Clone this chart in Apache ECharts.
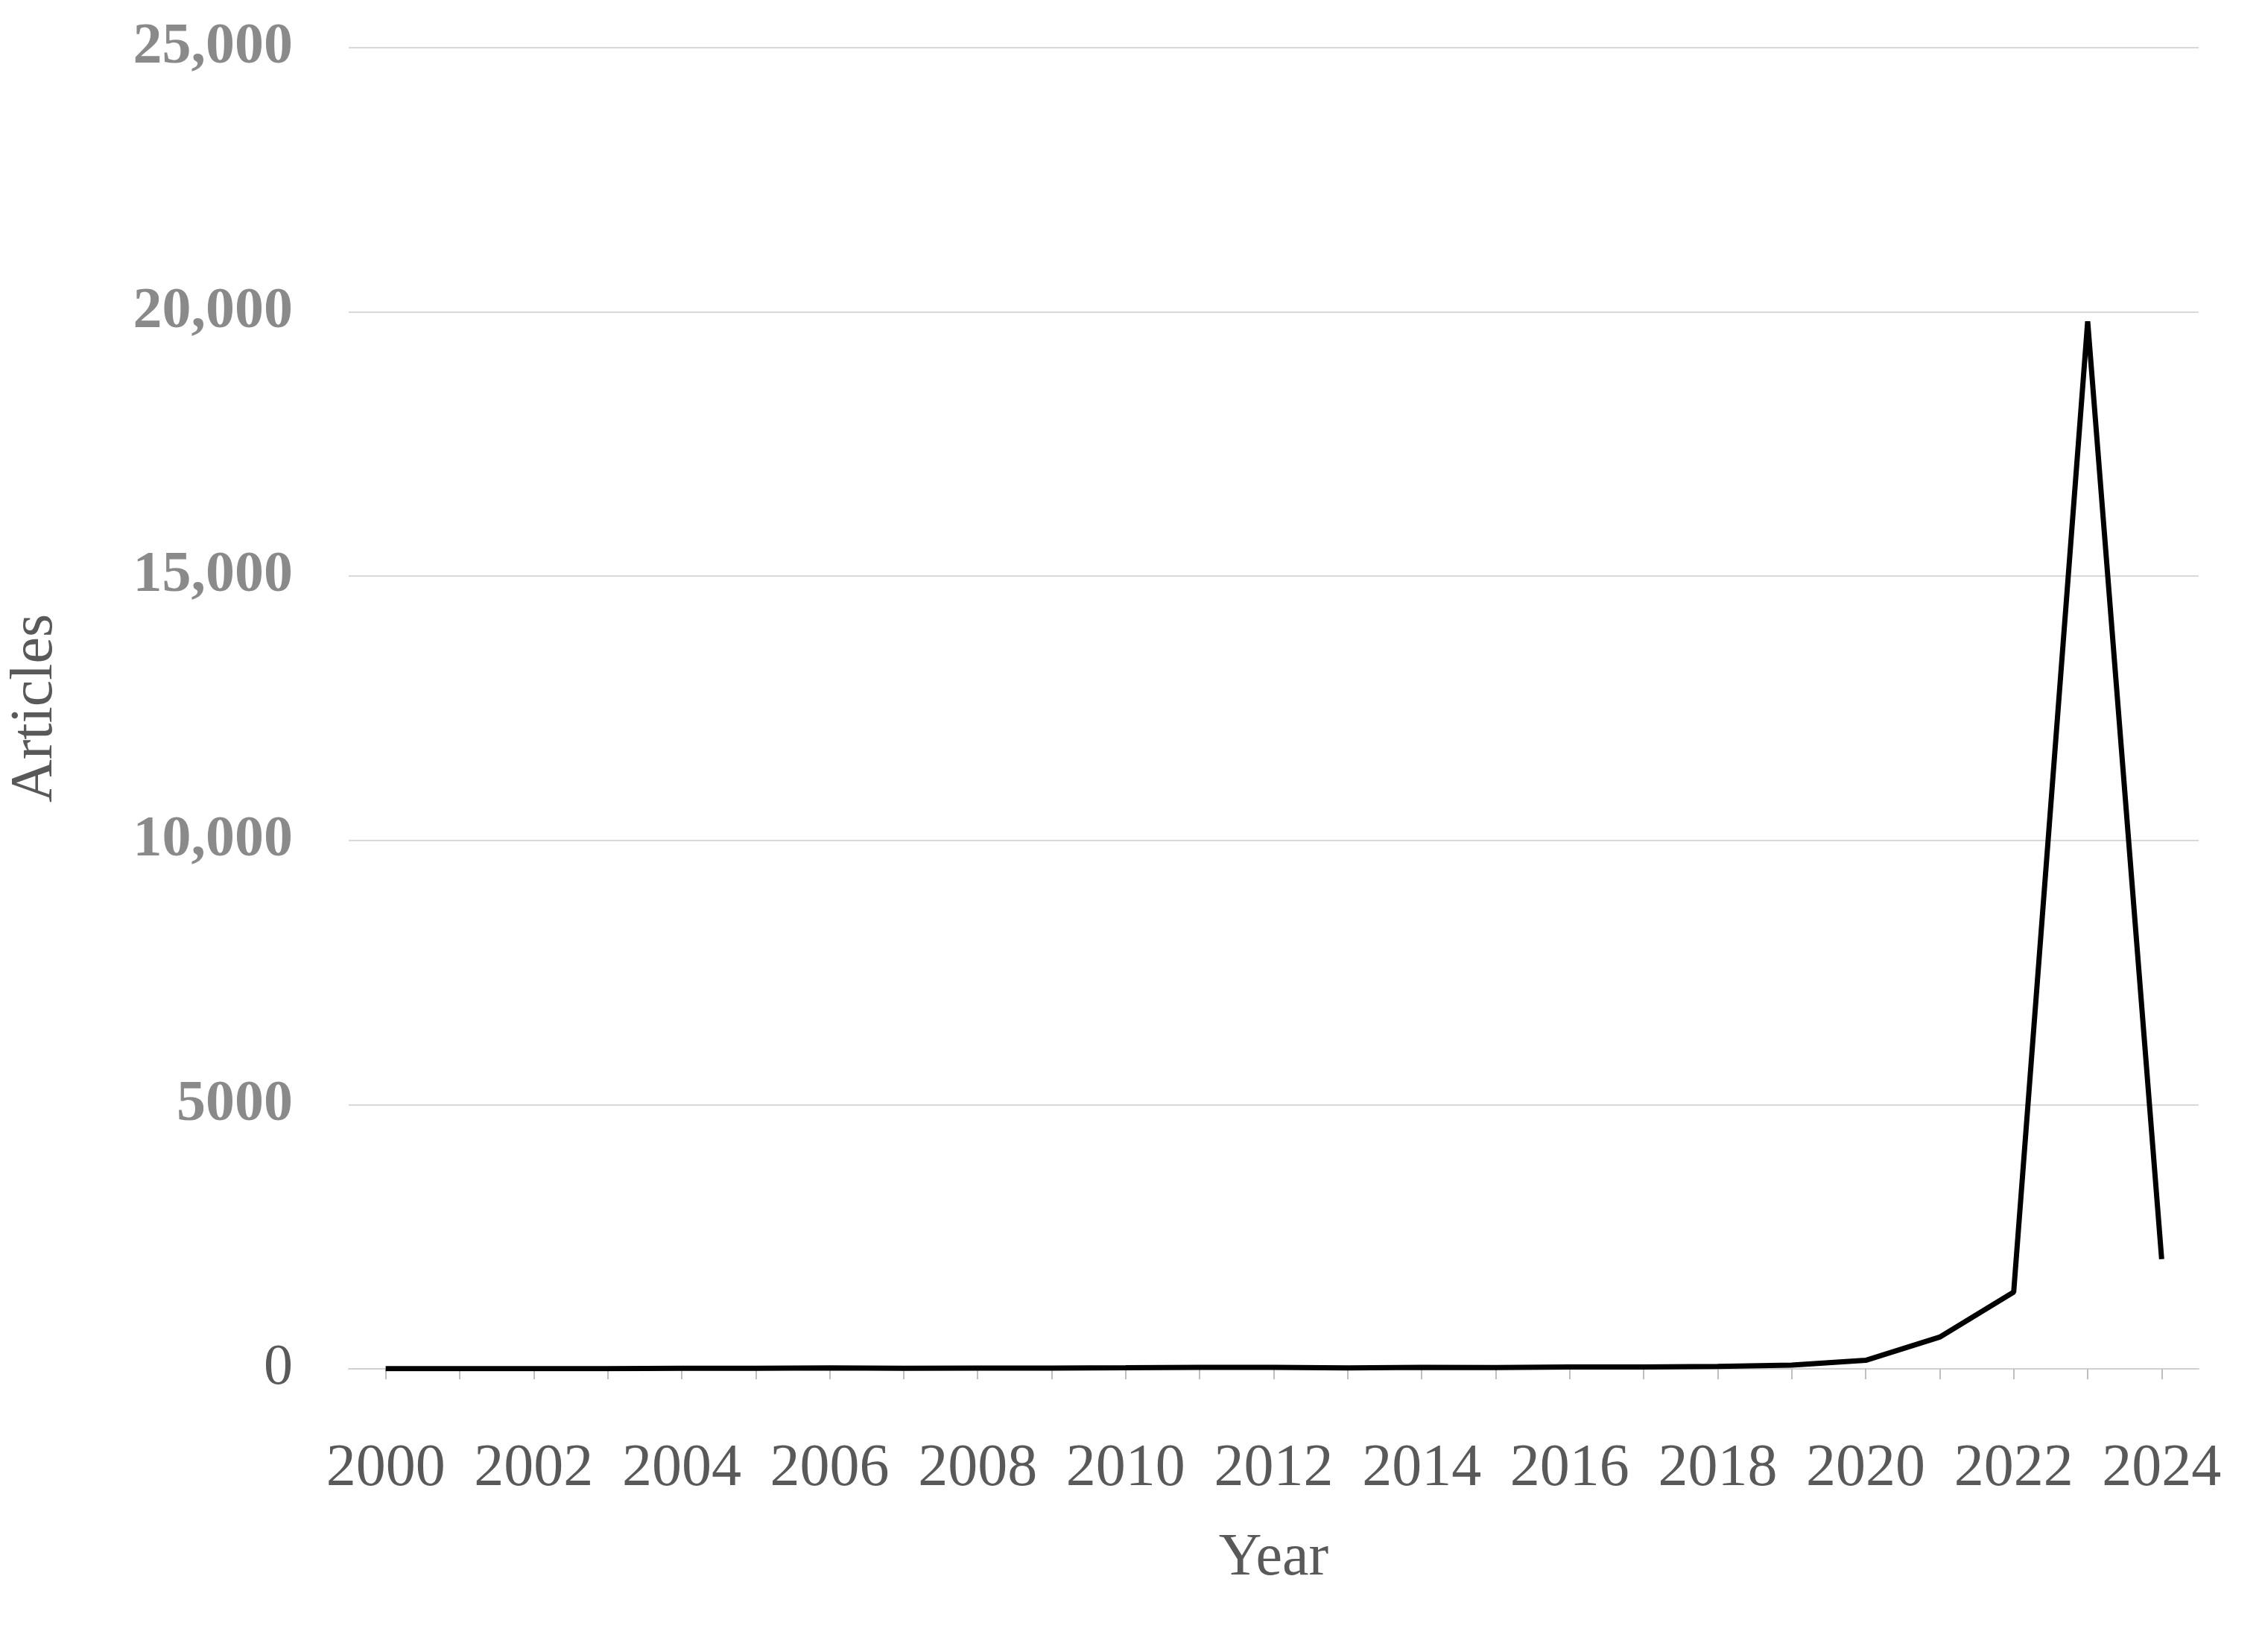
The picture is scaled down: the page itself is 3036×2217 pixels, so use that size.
<!DOCTYPE html>
<html lang="en">
<head>
  <meta charset="UTF-8">
  <title>Articles per year</title>
  <style>
    html, body { margin: 0; padding: 0; background: #fff; }
    #chart { width: 3036px; height: 2217px; }
  </style>
</head>
<body>
  <div id="chart"></div>
  <script src="https://cdn.jsdelivr.net/npm/echarts@6/dist/echarts.min.js"></script>
  <script>
    var years = ['2000','2001','2002','2003','2004','2005','2006','2007','2008','2009','2010','2011','2012',
      '2013','2014','2015','2016','2017','2018','2019','2020','2021','2022','2023','2024'];
    var articles = [3, 3, 2, 5, 10, 9, 17, 11, 14, 14, 20, 29, 28, 19, 29, 24, 37, 37, 47, 72, 161, 600, 1452, 19822, 2075];
    var yTicks = { 0: '0', 5000: '5000', 10000: '10,000', 15000: '15,000', 20000: '20,000', 25000: '25,000' };

    var font = '"Liberation Serif", "DejaVu Serif", serif';

    // label placement tweaks for the crowded right end
    var data = articles.map(function (v, i) {
      var item = { value: v };
      if (years[i] === '2021') item.label = { position: 'top', offset: [-5, -20] };
      if (years[i] === '2022') item.label = { position: 'bottom', distance: 30 };
      if (years[i] === '2023') item.label = { color: '#8a8a8a', distance: 55, fontSize: 70 };
      if (years[i] === '2024') item.label = { position: 'bottom', offset: [30, -10] };
      return item;
    });

    var chart = echarts.init(document.getElementById('chart'));
    chart.setOption({
      animation: false,
      grid: { left: 453, right: 85, top: 64, bottom: 380 },
      xAxis: {
        type: 'category',
        data: years,
        boundaryGap: true,
        name: 'Year',
        nameLocation: 'middle',
        nameGap: 215,
        nameTextStyle: { fontFamily: font, fontSize: 80, color: '#595959' },
        axisLine: { lineStyle: { color: '#d0d0d0', width: 2 } },
        axisTick: { show: true, alignWithLabel: true, interval: 0, length: 14, lineStyle: { color: '#bfbfbf', width: 2 } },
        axisLabel: { interval: 1, fontFamily: font, fontSize: 80, color: '#595959', margin: 95 }
      },
      yAxis: {
        type: 'value',
        min: 0, max: 25000, interval: 5000,
        name: 'Articles',
        nameLocation: 'middle',
        nameGap: 380,
        nameTextStyle: { fontFamily: font, fontSize: 80, color: '#595959' },
        splitLine: { lineStyle: { color: '#d9d9d9', width: 2 } },
        axisLine: { show: false },
        axisTick: { show: false },
        axisLabel: {
          margin: 75,
          formatter: function (v) { return v === 0 ? '{z|0}' : '{b|' + yTicks[v] + '}'; },
          rich: {
            z: { fontFamily: font, fontSize: 78, color: '#595959' },
            b: { fontFamily: font, fontSize: 78, fontWeight: 'bold', color: '#8a8a8a' }
          }
        }
      },
      series: [{
        type: 'line',
        data: data,
        symbol: 'circle',
        symbolSize: 1,
        itemStyle: { color: '#000', opacity: 0 },
        lineStyle: { color: '#000', width: 7 },
        label: {
          show: true,
          position: 'top',
          distance: 45,
          fontFamily: font,
          fontSize: 66,
          color: '#404040',
          formatter: function (p) { return p.value >= 10000 ? '19,822' : String(p.value); }
        }
      }]
    });
  </script>
</body>
</html>
